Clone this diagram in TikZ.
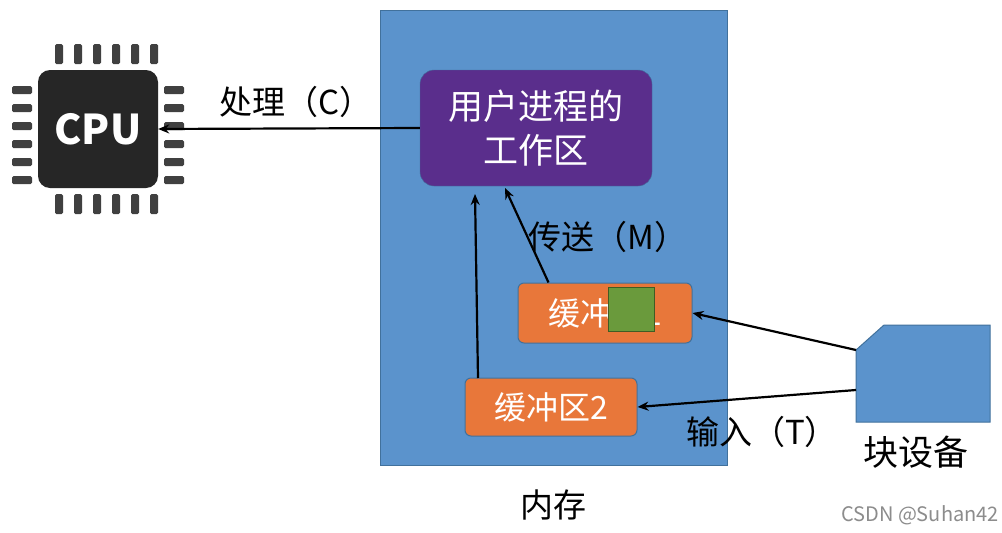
\documentclass[tikz,border=0pt]{standalone}
\usepackage{fontspec}
\setmainfont{Noto Sans CJK SC}
\usetikzlibrary{arrows.meta}
\definecolor{memblue}{HTML}{5B93CC}
\definecolor{memedge}{HTML}{41719C}
\definecolor{purp}{HTML}{5A2E8C}
\definecolor{orng}{HTML}{E8773A}
\definecolor{grn}{HTML}{6A9A3C}
\begin{document}
\begin{tikzpicture}[x=1pt,y=-1pt,
  arr/.style={-{Stealth[length=11pt,width=9pt]},line width=2.2pt,black},
  lbl/.style={font=\fontsize{33}{36}\selectfont},
  buf/.style={draw=memedge,fill=orng,rounded corners=6pt,line width=1pt,text=white,font=\fontsize{32}{34}\selectfont},
  pin/.style={fill=black!75,rounded corners=1.5pt}]
\useasboundingbox (0,0) rectangle (1002,533);
\fill[white] (0,0) rectangle (1002,533);
% CPU
\foreach \i in {0,...,5}{
  \fill[pin] (55+\i*19,44) rectangle (63+\i*19,64);
  \fill[pin] (55+\i*19,194) rectangle (63+\i*19,214);
  \fill[pin] (12,86+\i*18) rectangle (32,94+\i*18);
  \fill[pin] (164,86+\i*18) rectangle (184,94+\i*18);}
\node[fill=black!85,rounded corners=12pt,minimum width=120pt,minimum height=118pt,text=white,font=\bfseries\fontsize{41}{43}\selectfont] (cpu) at (98,129) {CPU};
% memory
\node[draw=memedge,fill=memblue,line width=1pt,minimum width=347pt,minimum height=455pt,inner sep=0] (mem) at (553.5,237.5) {};
\node[draw=memedge,fill=purp,rounded corners=14pt,minimum width=232pt,minimum height=116pt,text=white,align=center,font=\fontsize{35}{44}\selectfont] (work) at (536,128) {用户进程的\\工作区};
\node[buf,minimum width=174pt,minimum height=60pt] (b1) at (605,313) {缓冲区1};
\node[fill=grn,draw=grn!60!black,minimum width=46pt,minimum height=44pt,inner sep=0] (g) at (631,309) {};
\node[buf,minimum width=172pt,minimum height=58pt] (b2) at (551,407) {缓冲区2};
% block device
\filldraw[fill=memblue,draw=memedge,line width=1pt] (856,350) -- (884,325) -- (990,325) -- (990,422) -- (856,422) -- cycle;
\coordinate (d1) at (856,350);
\coordinate (d2) at (856,390);
\draw[arr] (d1) -- (b1.east);
\draw[arr] (d2) -- (b2.east);
\draw[arr] (b1.north west) ++(31,0) coordinate (b1t) -- (505,188) coordinate (w1);
\draw[arr] (478,378) coordinate (b2t) -- (475,194) coordinate (w2);
\draw[arr] (work.west) -- (cpu.east);
% labels
\node[lbl] (l1) at (296,102) {处理（C）};
\node[lbl] (l2) at (608,237) {传送（M）};
\node[lbl] (l3) at (762,432) {输入（T）};
\node[lbl,font=\fontsize{35}{37}\selectfont] (l4) at (916,452) {块设备};
\node[lbl] (l5) at (553,505) {内存};
\node[text=black!45,font=\fontsize{20}{22}\selectfont] (wm) at (920,515) {CSDN @Suhan42};
\end{tikzpicture}
\end{document}
